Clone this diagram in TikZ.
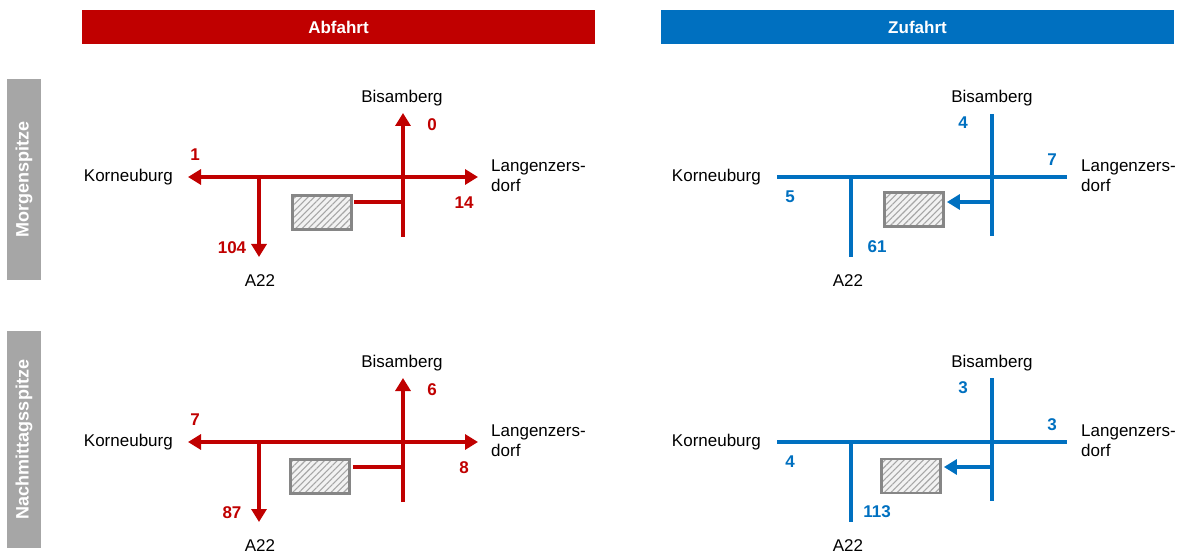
\documentclass[tikz,border=0pt]{standalone}
\usepackage{fontspec}
\setmainfont{Liberation Sans}
\usetikzlibrary{arrows.meta,patterns.meta}
\definecolor{abred}{HTML}{C00000}
\definecolor{zublue}{HTML}{0070C0}
\definecolor{sidegray}{HTML}{A6A6A6}
\definecolor{boxgray}{HTML}{868686}
\begin{document}
\begin{tikzpicture}[x=1pt,y=-1pt,
  >={Triangle[length=13pt,width=15pt]},
  lbl/.style={font=\fontsize{17}{20}\selectfont, inner sep=0pt},
  num/.style={font=\fontsize{17}{20}\selectfont\bfseries, inner sep=0pt},
  rednum/.style={num, text=abred},
  bluenum/.style={num, text=zublue},
  redroad/.style={draw=abred, line width=4pt},
  blueroad/.style={draw=zublue, line width=4pt},
  hatchbox/.style={draw=boxgray, line width=2.8pt, minimum width=59pt, minimum height=34pt, inner sep=0pt,
    preaction={fill=gray!10}, pattern={Lines[angle=45,distance=4.5pt,line width=1.1pt]}, pattern color=gray!70},
  header/.style={minimum width=513pt, minimum height=34pt, inner sep=0pt, text=white,
    font=\fontsize{17}{19}\selectfont\bfseries},
  sidebar/.style={fill=sidegray, rotate=90, minimum height=34pt, inner sep=0pt, text=white,
    font=\fontsize{18}{20}\selectfont\bfseries}
]
\useasboundingbox (0,0) rectangle (1184,556);

% headers
\node[header, fill=abred] (habf) at (338.5,27) {Abfahrt};
\node[header, fill=zublue] (hzuf) at (917.5,27) {Zufahrt};

% side bars
\node[sidebar, minimum width=201pt] (smorg) at (24,179.5) {Morgenspitze};
\node[sidebar, minimum width=217pt] (snach) at (24,439.5) {Nachmittagsspitze};

% ---------- top-left (Abfahrt, Morgenspitze)
\coordinate (a1w) at (188,177);
\coordinate (a1e) at (478,177);
\coordinate (a1j) at (259,177);
\coordinate (a1s) at (259,257);
\coordinate (a1n) at (403,113);
\coordinate (a1b) at (403,237);
\coordinate (a1c) at (403,202);
\node[hatchbox] (box1) at (322,212.5) {};
\draw[redroad,<->] (a1w) -- (a1e);
\draw[redroad,->] (a1j) -- (a1s);
\draw[redroad,->] (a1b) -- (a1n);
\draw[redroad] ([xshift=2pt]box1.east |- a1c) -- (a1c);
\node[lbl] (bis1) at (402,98) {Bisamberg};
\node[lbl,anchor=east] (kor1) at (173,177) {Korneuburg};
\node[lbl,anchor=west,align=left] (lan1) at (491,176) {Langenzers-\\dorf};
\node[lbl] (a22i) at (260,281) {A22};
\node[rednum] (n1n) at (432,125) {0};
\node[rednum] (n1w) at (195,155) {1};
\node[rednum] (n1e) at (464,203) {14};
\node[rednum] (n1s) at (232,248) {104};

% ---------- top-right (Zufahrt, Morgenspitze)
\coordinate (b1w) at (777,177);
\coordinate (b1e) at (1067,177);
\coordinate (b1j) at (851,177);
\coordinate (b1s) at (851,257);
\coordinate (b1n) at (992,114);
\coordinate (b1b) at (992,236);
\coordinate (b1c) at (992,202);
\node[hatchbox] (box2) at (914,209.5) {};
\draw[blueroad] (b1w) -- (b1e);
\draw[blueroad] (b1j) -- (b1s);
\draw[blueroad] (b1n) -- (b1b);
\draw[blueroad,->] (b1c) -- ([xshift=2pt]box2.east |- b1c);
\node[lbl] (bis2) at (992,98) {Bisamberg};
\node[lbl,anchor=east] (kor2) at (761,177) {Korneuburg};
\node[lbl,anchor=west,align=left] (lan2) at (1081,176) {Langenzers-\\dorf};
\node[lbl] (a22ii) at (848,281) {A22};
\node[bluenum] (m1n) at (963,123) {4};
\node[bluenum] (m1e) at (1052,160) {7};
\node[bluenum] (m1w) at (790,197) {5};
\node[bluenum] (m1s) at (877,247) {61};

% ---------- bottom-left (Abfahrt, Nachmittagsspitze)
\coordinate (a2w) at (188,442);
\coordinate (a2e) at (478,442);
\coordinate (a2j) at (259,442);
\coordinate (a2s) at (259,522);
\coordinate (a2n) at (403,378);
\coordinate (a2b) at (403,502);
\coordinate (a2c) at (403,467);
\node[hatchbox] (box3) at (320,476.5) {};
\draw[redroad,<->] (a2w) -- (a2e);
\draw[redroad,->] (a2j) -- (a2s);
\draw[redroad,->] (a2b) -- (a2n);
\draw[redroad] ([xshift=2pt]box3.east |- a2c) -- (a2c);
\node[lbl] (bis3) at (402,363) {Bisamberg};
\node[lbl,anchor=east] (kor3) at (173,442) {Korneuburg};
\node[lbl,anchor=west,align=left] (lan3) at (491,441) {Langenzers-\\dorf};
\node[lbl] (a22iii) at (260,546) {A22};
\node[rednum] (n2n) at (432,390) {6};
\node[rednum] (n2w) at (195,420) {7};
\node[rednum] (n2e) at (464,468) {8};
\node[rednum] (n2s) at (232,513) {87};

% ---------- bottom-right (Zufahrt, Nachmittagsspitze)
\coordinate (b2w) at (777,442);
\coordinate (b2e) at (1067,442);
\coordinate (b2j) at (851,442);
\coordinate (b2s) at (851,522);
\coordinate (b2n) at (992,378);
\coordinate (b2b) at (992,501);
\coordinate (b2c) at (992,467);
\node[hatchbox] (box4) at (911,476) {};
\draw[blueroad] (b2w) -- (b2e);
\draw[blueroad] (b2j) -- (b2s);
\draw[blueroad] (b2n) -- (b2b);
\draw[blueroad,->] (b2c) -- ([xshift=2pt]box4.east |- b2c);
\node[lbl] (bis4) at (992,363) {Bisamberg};
\node[lbl,anchor=east] (kor4) at (761,442) {Korneuburg};
\node[lbl,anchor=west,align=left] (lan4) at (1081,441) {Langenzers-\\dorf};
\node[lbl] (a22iv) at (848,546) {A22};
\node[bluenum] (m2n) at (963,388) {3};
\node[bluenum] (m2e) at (1052,425) {3};
\node[bluenum] (m2w) at (790,462) {4};
\node[bluenum] (m2s) at (877,512) {113};
\end{tikzpicture}
\end{document}
